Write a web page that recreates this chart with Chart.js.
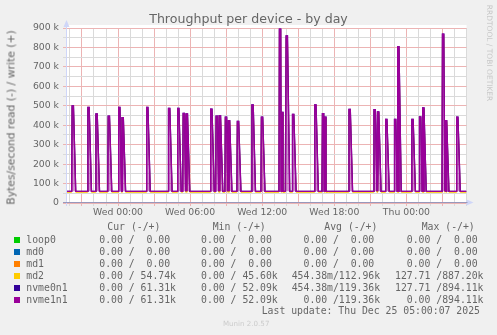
<!DOCTYPE html>
<html>
<head>
<meta charset="utf-8">
<title>Throughput per device - by day</title>
<script src="https://cdn.jsdelivr.net/npm/chart.js@4.4.1/dist/chart.umd.min.js"></script>
<style>
  body { margin: 0; background: #f0f0f0; }
  #wrap { position: relative; width: 497px; height: 335px; overflow: hidden;
          font-family: 'DejaVu Sans', sans-serif; color: #666; }
  canvas { position: absolute; left: 0; top: 0; }
  .t { position: absolute; white-space: pre; }
  .mono { font-family: 'DejaVu Sans Mono', monospace; font-size: 9.8px; line-height: 12px; }
  .sw { position: absolute; width: 6px; height: 6px; }
</style>
</head>
<body>
<div id="wrap">
  <canvas id="chart" width="497" height="335"></canvas>
  <div class="t" style="left:0; width:497px; text-align:center; top:11px; font-size:12.6px; line-height:15px;">Throughput per device - by day</div>
  <div class="t" style="left:-89.5px; width:200px; text-align:center; top:111px; font-size:10.8px; line-height:13px; transform:rotate(-90deg);">Bytes/second read (-) / write (+)</div>
  <div class="t" style="left:438.5px; width:100px; text-align:center; top:48px; font-size:7.5px; line-height:10px; color:#c8c8c8; transform:rotate(90deg);">RRDTOOL / TOBI OETIKER</div>
  <div id="legend"></div>
</div>
<script>
// time axis in hours relative to Wed 00:00
const startHour = -4.33;
const endHour = 29.0;
const xTickHours = [0, 6, 12, 18, 24];
const xTickLabels = ['Wed 00:00', 'Wed 06:00', 'Wed 12:00', 'Wed 18:00', 'Thu 00:00'];
const yTickValues = [0, 100000, 200000, 300000, 400000, 500000, 600000, 700000, 800000, 900000];
const yTickLabels = ['0', '100 k', '200 k', '300 k', '400 k', '500 k', '600 k', '700 k', '800 k', '900 k'];

// write bursts (hours) and their peak values (bytes/s)
const spikeHours = [-3.82, -2.51, -1.84, -0.82, 0.05, 0.33, 2.38, 4.2, 4.96, 5.42, 5.67,
  7.71, 8.16, 8.42, 8.93, 9.18, 9.93, 11.14, 11.93, 13.43, 13.62, 13.99, 14.52,
  16.37, 17.01, 17.2, 19.22, 21.3, 21.59, 22.27, 23.01, 23.27, 24.45, 25.09, 25.35,
  27.0, 27.24, 28.18];
const nvmeWritePeaks = [499000, 492000, 458000, 447000, 492000, 442000, 492000, 487000, 487000, 461000, 461000,
  483000, 447000, 452000, 442000, 427000, 420000, 504000, 442000, 894110, 466000, 859000, 456000,
  505000, 460000, 442000, 482000, 480000, 472000, 430000, 430000, 808000, 430000, 443000, 492000,
  869000, 427000, 442000];
const md2WritePeaks = [492000, 486000, 452000, 440000, 486000, 436000, 486000, 481000, 480000, 455000, 455000,
  477000, 441000, 446000, 436000, 421000, 414000, 497000, 436000, 887200, 460000, 852000, 450000,
  498000, 454000, 436000, 476000, 474000, 466000, 424000, 424000, 801000, 424000, 437000, 486000,
  862000, 421000, 436000];
const nvmeWriteBase = 60000;
const md2WriteBase = 55000;

const seriesNames = ['loop0', 'md0', 'md1', 'md2', 'nvme0n1', 'nvme1n1'];
const seriesColors = ['#00cc00', '#0066b3', '#ff8000', '#ffcc00', '#330099', '#990099'];
const curText = ['  0.00 /  0.00 ', '  0.00 /  0.00 ', '  0.00 /  0.00 ', '  0.00 / 54.74k', '  0.00 / 61.31k', '  0.00 / 61.31k'];
const minText = ['  0.00 /  0.00 ', '  0.00 /  0.00 ', '  0.00 /  0.00 ', '  0.00 / 45.60k', '  0.00 / 52.09k', '  0.00 / 52.09k'];
const avgText = ['  0.00 /  0.00 ', '  0.00 /  0.00 ', '  0.00 /  0.00 ', '454.38m/112.96k', '454.38m/119.36k', '  0.00 /119.36k'];
const maxText = ['  0.00 /  0.00 ', '  0.00 /  0.00 ', '  0.00 /  0.00 ', '127.71 /887.20k', '127.71 /894.11k', '  0.00 /894.11k'];

function burstLine(peaks, base) {
  const pts = [{x: startHour, y: base}];
  spikeHours.forEach((h, i) => {
    pts.push({x: h - 0.04, y: base}, {x: h, y: peaks[i]}, {x: h + 0.11, y: peaks[i]}, {x: h + 0.3, y: base});
  });
  pts.push({x: endHour, y: base});
  return pts.sort((a, b) => a.x - b.x);
}
const flat = [{x: startHour, y: 0}, {x: endHour, y: 0}];

// legend table
const legend = document.getElementById('legend');
function txt(s, left, top, extra) {
  const d = document.createElement('div');
  d.className = 't mono';
  d.textContent = s;
  d.style.left = left + 'px';
  d.style.top = top + 'px';
  if (extra) Object.assign(d.style, extra);
  legend.appendChild(d);
}
txt('Cur (-/+)', 107.3, 221);
txt('Min (-/+)', 212.7, 221);
txt('Avg (-/+)', 324.3, 221);
txt('Max (-/+)', 421.7, 221);
seriesNames.forEach((n, i) => {
  const top = 234 + i * 12;
  const sw = document.createElement('div');
  sw.className = 'sw';
  sw.style.left = '14px';
  sw.style.top = (top + 3) + 'px';
  sw.style.background = seriesColors[i];
  legend.appendChild(sw);
  txt(n, 26.3, top);
  txt(curText[i], 87.5, top);
  txt(minText[i], 189.3, top);
  txt(avgText[i], 291.7, top);
  txt(maxText[i], 395, top);
});
txt('Last update: Thu Dec 25 05:00:07 2025', 261.7, 305);
txt('Munin 2.0.57', 223, 317.5, {fontFamily: "'DejaVu Sans', sans-serif", fontSize: '7.1px', color: '#cccccc'});

const frame = {
  id: 'frame',
  beforeDraw(chart) {
    const {ctx, chartArea: a} = chart;
    ctx.save();
    ctx.fillStyle = '#ffffff';
    ctx.fillRect(a.left, a.top - 3, a.right - a.left, a.bottom - a.top + 3);
    ctx.restore();
  },
  afterDraw(chart) {
    const {ctx, chartArea: a} = chart;
    ctx.save();
    ctx.lineWidth = 1;
    ctx.strokeStyle = '#cfd6f8';
    ctx.fillStyle = '#cfd6f8';
    ctx.beginPath();
    ctx.moveTo(a.left + 0.5, a.bottom + 3);
    ctx.lineTo(a.left + 0.5, a.top - 4);
    ctx.stroke();
    ctx.beginPath();
    ctx.moveTo(a.left + 0.5, a.top - 8);
    ctx.lineTo(a.left + 3.5, a.top - 1);
    ctx.lineTo(a.left - 2.5, a.top - 1);
    ctx.fill();
    ctx.beginPath();
    ctx.moveTo(a.right + 7, a.bottom - 0.5);
    ctx.lineTo(a.right, a.bottom - 3.5);
    ctx.lineTo(a.right, a.bottom + 2.5);
    ctx.fill();
    ctx.strokeStyle = '#9898bc';
    ctx.beginPath();
    ctx.moveTo(a.left - 3, a.bottom - 0.5);
    ctx.lineTo(a.right + 1, a.bottom - 0.5);
    ctx.stroke();
    ctx.restore();
  }
};

const red = '#ecb4b4';
const grey = '#dadada';

new Chart(document.getElementById('chart'), {
  type: 'line',
  data: {
    datasets: [
      {label: 'nvme1n1', data: burstLine(nvmeWritePeaks, nvmeWriteBase), borderColor: seriesColors[5],
        fill: {value: nvmeWriteBase}, backgroundColor: 'rgba(153, 0, 153, 0.45)'},
      {label: 'nvme0n1', data: burstLine(nvmeWritePeaks, nvmeWriteBase), borderColor: seriesColors[4]},
      {label: 'md2', data: burstLine(md2WritePeaks, md2WriteBase), borderColor: seriesColors[3], borderWidth: 1},
      {label: 'md1', data: flat, borderColor: seriesColors[2]},
      {label: 'md0', data: flat, borderColor: seriesColors[1]},
      {label: 'loop0', data: flat, borderColor: seriesColors[0]}
    ]
  },
  options: {
    responsive: false,
    animation: false,
    devicePixelRatio: 1,
    events: [],
    layout: {padding: {top: 28, bottom: 112, left: 0, right: 30.5}},
    elements: {
      point: {radius: 0},
      line: {borderWidth: 1.3, tension: 0, fill: false}
    },
    plugins: {legend: {display: false}, title: {display: false}, tooltip: {enabled: false}},
    scales: {
      x: {
        type: 'linear',
        min: startHour,
        max: endHour,
        afterFit: (s) => { s.height = 20; },
        border: {display: false},
        grid: {
          color: (c) => (c.tick.value % 3 === 0 ? red : grey),
          tickColor: (c) => (c.tick.value % 3 === 0 ? red : grey),
          borderDash: [1, 2],
          tickBorderDash: [],
          tickLength: 3,
          lineWidth: 1
        },
        ticks: {
          stepSize: 1,
          includeBounds: false,
          autoSkip: false,
          maxRotation: 0,
          padding: 1,
          color: '#666',
          font: {family: 'DejaVu Sans', size: 9.3},
          callback: (v) => { const i = xTickHours.indexOf(v); return i >= 0 ? xTickLabels[i] : ''; }
        }
      },
      y: {
        min: 0,
        max: 900000,
        afterFit: (s) => { s.width = 66; },
        border: {display: false},
        grid: {
          color: (c) => (c.tick.value % 100000 === 0 ? red : grey),
          tickColor: (c) => (c.tick.value % 100000 === 0 ? red : grey),
          borderDash: [1, 2],
          tickBorderDash: [],
          tickLength: 3,
          lineWidth: 1
        },
        ticks: {
          stepSize: 50000,
          includeBounds: false,
          autoSkip: false,
          padding: 4,
          color: '#666',
          font: {family: 'DejaVu Sans', size: 9.3},
          callback: (v) => { const i = yTickValues.indexOf(v); return i >= 0 ? yTickLabels[i] : ''; }
        }
      }
    }
  },
  plugins: [frame]
});
</script>
</body>
</html>
